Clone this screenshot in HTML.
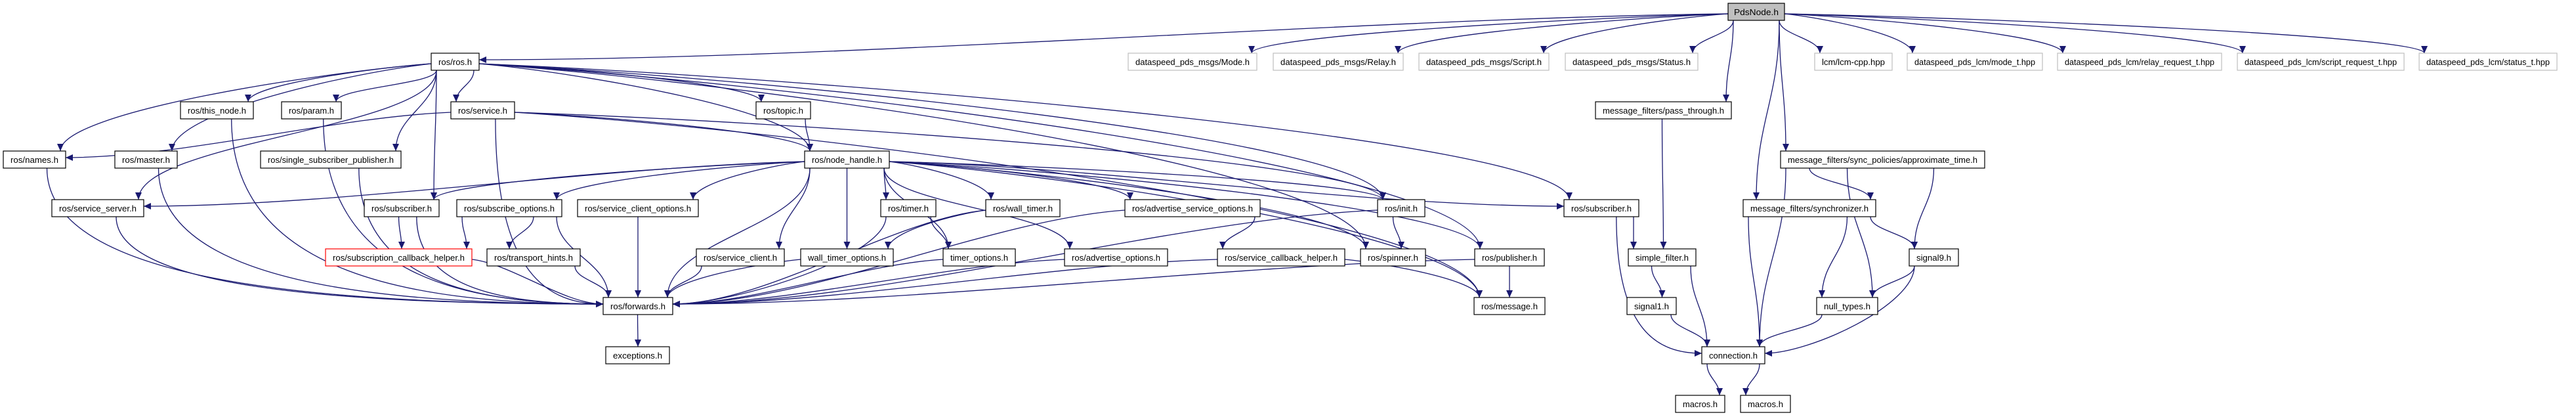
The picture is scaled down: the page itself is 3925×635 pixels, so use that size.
<!DOCTYPE html>
<html><head><meta charset="utf-8"><style>
html,body{margin:0;padding:0;background:#fff;}
svg{display:block;}
text{font-family:"Liberation Sans",sans-serif;font-size:13px;fill:#000;}
</style></head><body>
<svg id="s" width="3925" height="635" viewBox="0 0 3925 635" xmlns="http://www.w3.org/2000/svg">
<defs><marker id="a" markerUnits="userSpaceOnUse" markerWidth="12" markerHeight="10" refX="11" refY="5" orient="auto"><path d="M0,0 L11,5 L0,10 z" fill="#191970"/></marker></defs>
<g id="edges"></g>
<g id="nodes" stroke-width="1.2">
<g id="pds" data-x="2633" data-w="86" data-y="5"><rect x="2633" y="5" width="86" height="26" fill="#bfbfbf" stroke="#000"/><text x="2676" y="23" text-anchor="middle" textLength="68" lengthAdjust="spacingAndGlyphs">PdsNode.h</text></g>
<g id="ros" data-x="657" data-w="73" data-y="81"><rect x="657" y="81" width="73" height="26" fill="#fff" stroke="#000"/><text x="693.5" y="99" text-anchor="middle" textLength="51" lengthAdjust="spacingAndGlyphs">ros/ros.h</text></g>
<g id="mode" data-x="1719" data-w="196" data-y="81"><rect x="1719" y="81" width="196" height="26" fill="#fff" stroke="#bfbfbf"/><text x="1817" y="99" text-anchor="middle" textLength="174" lengthAdjust="spacingAndGlyphs">dataspeed_pds_msgs/Mode.h</text></g>
<g id="relay" data-x="1940" data-w="198" data-y="81"><rect x="1940" y="81" width="198" height="26" fill="#fff" stroke="#bfbfbf"/><text x="2039" y="99" text-anchor="middle" textLength="176" lengthAdjust="spacingAndGlyphs">dataspeed_pds_msgs/Relay.h</text></g>
<g id="script" data-x="2162" data-w="198" data-y="81"><rect x="2162" y="81" width="198" height="26" fill="#fff" stroke="#bfbfbf"/><text x="2261" y="99" text-anchor="middle" textLength="176" lengthAdjust="spacingAndGlyphs">dataspeed_pds_msgs/Script.h</text></g>
<g id="status" data-x="2385" data-w="202" data-y="81"><rect x="2385" y="81" width="202" height="26" fill="#fff" stroke="#bfbfbf"/><text x="2486" y="99" text-anchor="middle" textLength="180" lengthAdjust="spacingAndGlyphs">dataspeed_pds_msgs/Status.h</text></g>
<g id="lcm" data-x="2765" data-w="118" data-y="81"><rect x="2765" y="81" width="118" height="26" fill="#fff" stroke="#bfbfbf"/><text x="2824" y="99" text-anchor="middle" textLength="96" lengthAdjust="spacingAndGlyphs">lcm/lcm-cpp.hpp</text></g>
<g id="modet" data-x="2906" data-w="206" data-y="81"><rect x="2906" y="81" width="206" height="26" fill="#fff" stroke="#bfbfbf"/><text x="3009" y="99" text-anchor="middle" textLength="184" lengthAdjust="spacingAndGlyphs">dataspeed_pds_lcm/mode_t.hpp</text></g>
<g id="relayt" data-x="3135" data-w="250" data-y="81"><rect x="3135" y="81" width="250" height="26" fill="#fff" stroke="#bfbfbf"/><text x="3260" y="99" text-anchor="middle" textLength="228" lengthAdjust="spacingAndGlyphs">dataspeed_pds_lcm/relay_request_t.hpp</text></g>
<g id="scriptt" data-x="3409" data-w="254" data-y="81"><rect x="3409" y="81" width="254" height="26" fill="#fff" stroke="#bfbfbf"/><text x="3536" y="99" text-anchor="middle" textLength="232" lengthAdjust="spacingAndGlyphs">dataspeed_pds_lcm/script_request_t.hpp</text></g>
<g id="statust" data-x="3686" data-w="210" data-y="81"><rect x="3686" y="81" width="210" height="26" fill="#fff" stroke="#bfbfbf"/><text x="3791" y="99" text-anchor="middle" textLength="188" lengthAdjust="spacingAndGlyphs">dataspeed_pds_lcm/status_t.hpp</text></g>
<g id="thisnode" data-x="275" data-w="111" data-y="155"><rect x="275" y="155" width="111" height="26" fill="#fff" stroke="#000"/><text x="330.5" y="173" text-anchor="middle" textLength="89" lengthAdjust="spacingAndGlyphs">ros/this_node.h</text></g>
<g id="param" data-x="429" data-w="91" data-y="155"><rect x="429" y="155" width="91" height="26" fill="#fff" stroke="#000"/><text x="474.5" y="173" text-anchor="middle" textLength="69" lengthAdjust="spacingAndGlyphs">ros/param.h</text></g>
<g id="service" data-x="687" data-w="97" data-y="155"><rect x="687" y="155" width="97" height="26" fill="#fff" stroke="#000"/><text x="735.5" y="173" text-anchor="middle" textLength="75" lengthAdjust="spacingAndGlyphs">ros/service.h</text></g>
<g id="topic" data-x="1152" data-w="83" data-y="155"><rect x="1152" y="155" width="83" height="26" fill="#fff" stroke="#000"/><text x="1193.5" y="173" text-anchor="middle" textLength="61" lengthAdjust="spacingAndGlyphs">ros/topic.h</text></g>
<g id="pass" data-x="2431" data-w="207" data-y="155"><rect x="2431" y="155" width="207" height="26" fill="#fff" stroke="#000"/><text x="2534.5" y="173" text-anchor="middle" textLength="185" lengthAdjust="spacingAndGlyphs">message_filters/pass_through.h</text></g>
<g id="names" data-x="5" data-w="95" data-y="230"><rect x="5" y="230" width="95" height="26" fill="#fff" stroke="#000"/><text x="52.5" y="248" text-anchor="middle" textLength="73" lengthAdjust="spacingAndGlyphs">ros/names.h</text></g>
<g id="master" data-x="175" data-w="95" data-y="230"><rect x="175" y="230" width="95" height="26" fill="#fff" stroke="#000"/><text x="222.5" y="248" text-anchor="middle" textLength="73" lengthAdjust="spacingAndGlyphs">ros/master.h</text></g>
<g id="ssp" data-x="397" data-w="214" data-y="230"><rect x="397" y="230" width="214" height="26" fill="#fff" stroke="#000"/><text x="504" y="248" text-anchor="middle" textLength="192" lengthAdjust="spacingAndGlyphs">ros/single_subscriber_publisher.h</text></g>
<g id="nh" data-x="1226" data-w="129" data-y="230"><rect x="1226" y="230" width="129" height="26" fill="#fff" stroke="#000"/><text x="1290.5" y="248" text-anchor="middle" textLength="107" lengthAdjust="spacingAndGlyphs">ros/node_handle.h</text></g>
<g id="approx" data-x="2713" data-w="311" data-y="230"><rect x="2713" y="230" width="311" height="26" fill="#fff" stroke="#000"/><text x="2868.5" y="248" text-anchor="middle" textLength="289" lengthAdjust="spacingAndGlyphs">message_filters/sync_policies/approximate_time.h</text></g>
<g id="ss" data-x="79" data-w="140" data-y="304"><rect x="79" y="304" width="140" height="26" fill="#fff" stroke="#000"/><text x="149" y="322" text-anchor="middle" textLength="118" lengthAdjust="spacingAndGlyphs">ros/service_server.h</text></g>
<g id="sub" data-x="555" data-w="114" data-y="304"><rect x="555" y="304" width="114" height="26" fill="#fff" stroke="#000"/><text x="612" y="322" text-anchor="middle" textLength="92" lengthAdjust="spacingAndGlyphs">ros/subscriber.h</text></g>
<g id="subopt" data-x="696" data-w="160" data-y="304"><rect x="696" y="304" width="160" height="26" fill="#fff" stroke="#000"/><text x="776" y="322" text-anchor="middle" textLength="138" lengthAdjust="spacingAndGlyphs">ros/subscribe_options.h</text></g>
<g id="sco" data-x="880" data-w="184" data-y="304"><rect x="880" y="304" width="184" height="26" fill="#fff" stroke="#000"/><text x="972" y="322" text-anchor="middle" textLength="162" lengthAdjust="spacingAndGlyphs">ros/service_client_options.h</text></g>
<g id="timer" data-x="1342" data-w="84" data-y="304"><rect x="1342" y="304" width="84" height="26" fill="#fff" stroke="#000"/><text x="1384" y="322" text-anchor="middle" textLength="62" lengthAdjust="spacingAndGlyphs">ros/timer.h</text></g>
<g id="wtimer" data-x="1502" data-w="113" data-y="304"><rect x="1502" y="304" width="113" height="26" fill="#fff" stroke="#000"/><text x="1558.5" y="322" text-anchor="middle" textLength="91" lengthAdjust="spacingAndGlyphs">ros/wall_timer.h</text></g>
<g id="aso" data-x="1714" data-w="206" data-y="304"><rect x="1714" y="304" width="206" height="26" fill="#fff" stroke="#000"/><text x="1817" y="322" text-anchor="middle" textLength="184" lengthAdjust="spacingAndGlyphs">ros/advertise_service_options.h</text></g>
<g id="init" data-x="2099" data-w="72" data-y="304"><rect x="2099" y="304" width="72" height="26" fill="#fff" stroke="#000"/><text x="2135" y="322" text-anchor="middle" textLength="50" lengthAdjust="spacingAndGlyphs">ros/init.h</text></g>
<g id="sub2" data-x="2383" data-w="114" data-y="304"><rect x="2383" y="304" width="114" height="26" fill="#fff" stroke="#000"/><text x="2440" y="322" text-anchor="middle" textLength="92" lengthAdjust="spacingAndGlyphs">ros/subscriber.h</text></g>
<g id="sync" data-x="2656" data-w="202" data-y="304"><rect x="2656" y="304" width="202" height="26" fill="#fff" stroke="#000"/><text x="2757" y="322" text-anchor="middle" textLength="180" lengthAdjust="spacingAndGlyphs">message_filters/synchronizer.h</text></g>
<g id="sch" data-x="496" data-w="223" data-y="379"><rect x="496" y="379" width="223" height="26" fill="#fff" stroke="#ff0000"/><text x="607.5" y="397" text-anchor="middle" textLength="201" lengthAdjust="spacingAndGlyphs">ros/subscription_callback_helper.h</text></g>
<g id="th" data-x="742" data-w="142" data-y="379"><rect x="742" y="379" width="142" height="26" fill="#fff" stroke="#000"/><text x="813" y="397" text-anchor="middle" textLength="120" lengthAdjust="spacingAndGlyphs">ros/transport_hints.h</text></g>
<g id="sc" data-x="1061" data-w="134" data-y="379"><rect x="1061" y="379" width="134" height="26" fill="#fff" stroke="#000"/><text x="1128" y="397" text-anchor="middle" textLength="112" lengthAdjust="spacingAndGlyphs">ros/service_client.h</text></g>
<g id="wto" data-x="1220" data-w="141" data-y="379"><rect x="1220" y="379" width="141" height="26" fill="#fff" stroke="#000"/><text x="1290.5" y="397" text-anchor="middle" textLength="119" lengthAdjust="spacingAndGlyphs">wall_timer_options.h</text></g>
<g id="to" data-x="1437" data-w="110" data-y="379"><rect x="1437" y="379" width="110" height="26" fill="#fff" stroke="#000"/><text x="1492" y="397" text-anchor="middle" textLength="88" lengthAdjust="spacingAndGlyphs">timer_options.h</text></g>
<g id="ao" data-x="1622" data-w="157" data-y="379"><rect x="1622" y="379" width="157" height="26" fill="#fff" stroke="#000"/><text x="1700.5" y="397" text-anchor="middle" textLength="135" lengthAdjust="spacingAndGlyphs">ros/advertise_options.h</text></g>
<g id="scbh" data-x="1855" data-w="194" data-y="379"><rect x="1855" y="379" width="194" height="26" fill="#fff" stroke="#000"/><text x="1952" y="397" text-anchor="middle" textLength="172" lengthAdjust="spacingAndGlyphs">ros/service_callback_helper.h</text></g>
<g id="spinner" data-x="2073" data-w="99" data-y="379"><rect x="2073" y="379" width="99" height="26" fill="#fff" stroke="#000"/><text x="2122.5" y="397" text-anchor="middle" textLength="77" lengthAdjust="spacingAndGlyphs">ros/spinner.h</text></g>
<g id="pub" data-x="2247" data-w="106" data-y="379"><rect x="2247" y="379" width="106" height="26" fill="#fff" stroke="#000"/><text x="2300" y="397" text-anchor="middle" textLength="84" lengthAdjust="spacingAndGlyphs">ros/publisher.h</text></g>
<g id="sf" data-x="2481" data-w="103" data-y="379"><rect x="2481" y="379" width="103" height="26" fill="#fff" stroke="#000"/><text x="2532.5" y="397" text-anchor="middle" textLength="81" lengthAdjust="spacingAndGlyphs">simple_filter.h</text></g>
<g id="sig9" data-x="2909" data-w="75" data-y="379"><rect x="2909" y="379" width="75" height="26" fill="#fff" stroke="#000"/><text x="2946.5" y="397" text-anchor="middle" textLength="53" lengthAdjust="spacingAndGlyphs">signal9.h</text></g>
<g id="fwd" data-x="919" data-w="106" data-y="453"><rect x="919" y="453" width="106" height="26" fill="#fff" stroke="#000"/><text x="972" y="471" text-anchor="middle" textLength="84" lengthAdjust="spacingAndGlyphs">ros/forwards.h</text></g>
<g id="msg" data-x="2246" data-w="108" data-y="453"><rect x="2246" y="453" width="108" height="26" fill="#fff" stroke="#000"/><text x="2300" y="471" text-anchor="middle" textLength="86" lengthAdjust="spacingAndGlyphs">ros/message.h</text></g>
<g id="sig1" data-x="2479" data-w="75" data-y="453"><rect x="2479" y="453" width="75" height="26" fill="#fff" stroke="#000"/><text x="2516.5" y="471" text-anchor="middle" textLength="53" lengthAdjust="spacingAndGlyphs">signal1.h</text></g>
<g id="null" data-x="2768" data-w="93" data-y="453"><rect x="2768" y="453" width="93" height="26" fill="#fff" stroke="#000"/><text x="2814.5" y="471" text-anchor="middle" textLength="71" lengthAdjust="spacingAndGlyphs">null_types.h</text></g>
<g id="exc" data-x="923" data-w="97" data-y="528"><rect x="923" y="528" width="97" height="26" fill="#fff" stroke="#000"/><text x="971.5" y="546" text-anchor="middle" textLength="75" lengthAdjust="spacingAndGlyphs">exceptions.h</text></g>
<g id="conn" data-x="2593" data-w="96" data-y="528"><rect x="2593" y="528" width="96" height="26" fill="#fff" stroke="#000"/><text x="2641" y="546" text-anchor="middle" textLength="74" lengthAdjust="spacingAndGlyphs">connection.h</text></g>
<g id="mac1" data-x="2553" data-w="75" data-y="602"><rect x="2553" y="602" width="75" height="26" fill="#fff" stroke="#000"/><text x="2590.5" y="620" text-anchor="middle" textLength="53" lengthAdjust="spacingAndGlyphs">macros.h</text></g>
<g id="mac2" data-x="2652" data-w="76" data-y="602"><rect x="2652" y="602" width="76" height="26" fill="#fff" stroke="#000"/><text x="2690" y="620" text-anchor="middle" textLength="54" lengthAdjust="spacingAndGlyphs">macros.h</text></g>
</g>
</svg>
<script>
var E=[
["pds","ros",1],["pds","mode"],["pds","relay"],["pds","script"],["pds","status"],["pds","pass"],["pds","sync"],["pds","approx"],["pds","lcm"],["pds","modet"],["pds","relayt"],["pds","scriptt"],["pds","statust"],
["ros","thisnode"],["ros","param"],["ros","service"],["ros","names"],["ros","master"],["ros","ssp"],["ros","ss"],["ros","sub"],["ros","topic"],["ros","nh"],["ros","init"],["ros","sub2"],["ros","pub"],["ros","spinner"],
["service","names",1],["service","nh"],["service","fwd",2],["service","init"],["service","msg"],
["topic","nh"],
["nh","ss",1],["nh","sub"],["nh","subopt"],["nh","sco"],["nh","fwd"],["nh","sc"],["nh","wto"],["nh","timer"],["nh","to"],["nh","wtimer"],["nh","aso"],["nh","ao"],["nh","init"],["nh","spinner"],["nh","pub"],["nh","msg"],["nh","sub2",1],
["sub","sch"],["sub","fwd",2],["subopt","sch"],["subopt","th"],["subopt","fwd"],["sch","fwd",1],["th","fwd"],["sco","fwd"],["sc","fwd"],["wto","fwd"],["timer","to"],["timer","fwd",1],["wtimer","wto"],["wtimer","fwd",1],["to","fwd",1],["ao","fwd",1],["aso","scbh"],["aso","fwd",1],["scbh","fwd",1],["scbh","msg"],["init","spinner"],["init","fwd",1],["pub","msg"],["pub","fwd",1],
["names","fwd",2],["master","fwd",2],["thisnode","fwd",2],["param","fwd",2],["ssp","fwd",2],["ss","fwd",2],["fwd","exc"],
["pass","sf"],["sub2","sf"],["sub2","conn",2],["sf","sig1"],["sf","conn"],["sig1","conn"],["approx","conn"],["approx","sync"],["approx","null"],["approx","sig9"],["sync","conn"],["sync","null"],["sync","sig9"],["sig9","null"],["sig9","conn",1],["null","conn"],["conn","mac1"],["conn","mac2"]
];
function g(id){var e=document.getElementById(id);return{x:+e.dataset.x,w:+e.dataset.w,y:+e.dataset.y,h:26};}
function cl(v,a,b){return Math.max(a,Math.min(b,v));}
var out="";
E.forEach(function(p){var s=g(p[0]),t=g(p[1]);
var scx=s.x+s.w/2,tcx=t.x+t.w/2;var dx=tcx-scx,sgn=dx>0?1:-1;var dyr=t.y-s.y;
var sx,sy,c1x,c1y,tx,ty,c2x,c2y,bottom;
if(p[2]!==2 && Math.abs(dx)>3*dyr){sx=sgn>0?s.x+s.w:s.x;sy=s.y+16;bottom=false;}
else{sx=p[2]===2?cl(s.x+s.w/2+sgn*s.w*0.2,s.x+8,s.x+s.w-8):cl(tcx,s.x+8,s.x+s.w-8);sy=s.y+26;bottom=true;}
if(p[2]){tx=sgn>0?t.x:t.x+t.w;ty=t.y+10;}
else{tx=cl(scx,t.x+8,t.x+t.w-8);ty=t.y;}
var dy=ty-sy;
if(bottom){c1x=sx;c1y=sy+dy*(p[2]===2?0.85:0.45);}else{c1x=sx+(tx-sx)*0.3;c1y=sy+dy*0.1;}
if(p[2]){c2x=tx-(tx-sx)*(p[2]===2?0.5:0.3);c2y=ty;}else{c2x=tx;c2y=ty-dy*0.45;}
var d="M"+sx+","+sy+" C"+c1x+","+c1y+" "+c2x+","+c2y+" "+tx+","+ty;
out+='<path d="'+d+'" fill="none" stroke="#191970" stroke-width="1.3" marker-end="url(#a)"/>';
});
document.getElementById("edges").innerHTML=out;
</script>
</body></html>
